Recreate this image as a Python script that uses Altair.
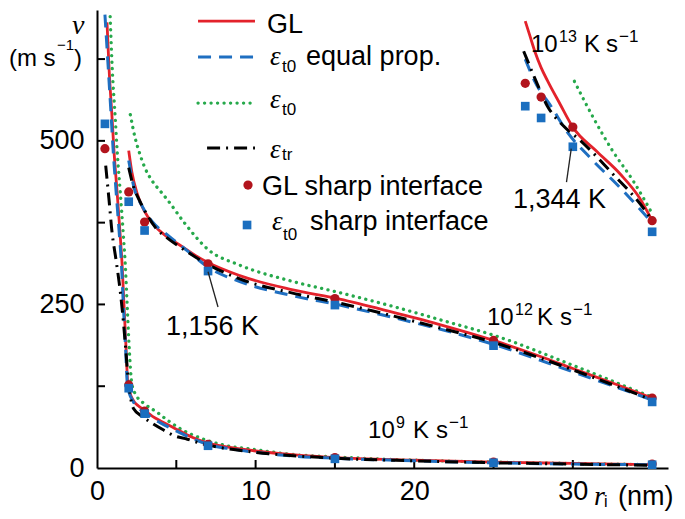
import altair as alt
import pandas as pd

# ---------------- data (r in nm, v in m/s) ----------------
# GL (red solid)
gl9_r = [0.63, 0.76, 0.95, 1.07, 1.26, 1.45, 1.58, 1.7, 1.83, 1.95, 2.3, 2.6, 3.0, 3.5, 4.0, 4.8, 6.0, 7.0, 8.5, 10, 12.5, 15, 20, 25, 30, 35]
gl9_v = [681, 611, 535, 485, 424, 360, 312, 250, 184, 126, 103, 95, 88, 79, 72, 62, 47, 38, 31, 26, 20, 16, 12, 9, 7, 5]
gl12_r = [2.0, 2.2, 2.5, 2.8, 3.2, 3.8, 4.5, 5.4, 6.2, 7.0, 9.0, 12.2, 15.3, 18.5, 21.5, 25, 28, 30, 32.5, 35]
gl12_v = [485, 452, 422, 402, 384, 366, 352, 338, 325, 314, 294, 273, 258, 239, 220, 195, 170, 152, 130, 107]
gl13_r = [27.0, 27.3, 27.6, 28.0, 28.4, 29.2, 30.0, 31.5, 33.0, 34.2, 35.0]
gl13_v = [683, 660, 637, 612, 592, 556, 521, 484, 449, 413, 378]

# eps_t0 equal prop. (blue dashed)
ep9_r = [0.5, 0.7, 0.9, 1.02, 1.2, 1.4, 1.54, 1.66, 1.8, 1.93, 2.3, 2.6, 3.0, 3.5, 4.0, 4.8, 6.0, 7.0, 8.5, 10, 12.5, 15, 20, 25, 30, 35]
ep9_v = [693, 615, 535, 485, 424, 360, 312, 250, 184, 124, 101, 92, 85, 76, 69, 59, 45, 36, 29, 24, 18, 15, 11, 8, 6, 5]
ep12_r = [2.0, 2.3, 2.9, 3.5, 4.4, 5.9, 7.0, 9.0, 12.2, 15.3, 18.5, 21.5, 25, 30, 35]
ep12_v = [470, 432, 398, 376, 357, 328, 307, 285, 264, 249, 231, 213, 189, 147, 104]
ep13_r = [27.0, 27.6, 28.7, 29.6, 31.1, 33.0, 35.0]
ep13_v = [625, 591, 550, 515, 474, 428, 375]

# eps_t0 (green dotted)
e09_r = [0.83, 0.96, 1.15, 1.27, 1.46, 1.65, 1.78, 1.9, 2.03, 2.2, 2.5, 3.0, 3.8, 4.5, 5.4, 6.5, 8.0, 10, 12.2, 15, 20, 25, 30, 35]
e09_v = [690, 611, 535, 485, 424, 360, 312, 250, 184, 128, 110, 98, 85, 72, 58, 46, 35, 28, 21, 17, 12, 9, 7, 5]
e012_r = [2.1, 2.4, 2.7, 3.0, 3.5, 4.0, 4.5, 5.5, 7.0, 9.0, 12.2, 15.3, 18.5, 22, 25, 30, 35]
e012_v = [540, 505, 480, 460, 438, 423, 408, 375, 334, 310, 286, 268, 248, 224, 203, 157, 108]
e013_r = [30.1, 31.3, 32.5, 33.8, 35.0]
e013_v = [591, 535, 485, 439, 389]

# eps_tr (black dash-dot)
tr9_r = [0.55, 0.75, 0.95, 1.2, 1.4, 1.6, 1.8, 1.95, 2.1, 2.3, 2.9, 3.5, 4.2, 4.9, 5.7, 6.5, 7.0, 10, 15, 20, 25, 30, 35]
tr9_v = [462, 412, 360, 318, 283, 240, 185, 140, 110, 91, 78, 68, 58, 49, 44, 38, 35, 24, 15, 11, 8, 6, 4]
tr12_r = [2.0, 2.3, 2.7, 3.2, 3.7, 4.4, 5.4, 7.0, 9.0, 12.2, 15.3, 17.4, 21, 25, 30, 35]
tr12_v = [459, 430, 408, 385, 367, 352, 335, 311, 289, 268, 252, 240, 218, 192, 150, 104]
tr13_r = [26.9, 27.6, 28.4, 29.4, 30.5, 32.5, 34.7, 35.0]
tr13_v = [637, 596, 553, 523, 500, 450, 389, 378]

# sharp-interface points
gls9_r = [0.5, 2, 3, 7, 15, 25, 35]
gls9_v = [488, 127, 87, 36, 16, 9, 6]
gls12_r = [2, 3, 7, 15, 25, 35]
gls12_v = [422, 376, 312, 259, 195, 107]
gls13_r = [27, 28, 30, 35]
gls13_v = [588, 567, 521, 378]
eps9_r = [0.5, 2, 3, 7, 15, 25, 35]
eps9_v = [526, 122, 83, 34, 14, 8, 5]
eps12_r = [2, 3, 7, 15, 25, 35]
eps12_v = [407, 363, 301, 249, 187, 101]
eps13_r = [27, 28, 30, 35]
eps13_v = [553, 535, 491, 361]

x_labels = [0, 10, 20, 30]
y_labels = [0, 250, 500]
x_minor = [5, 10, 15, 20, 25, 30, 35]
y_minor = [125, 250, 375, 500, 625]

# ---------------- helpers ----------------
SANS = "Liberation Sans"
SERIF = "Liberation Serif"
XS = alt.Scale(domain=[0, 36], nice=False, zero=False)
YS = alt.Scale(domain=[0, 700], nice=False, zero=False)
axis_common = dict(domainColor="black", domainWidth=2, ticks=False, tickSize=0, grid=False,
                   labelFont=SANS, labelFontSize=27, labelColor="black", title=None,
                   labelFlush=False, labelOverlap=False)
AX_X = alt.Axis(values=x_labels, labelPadding=10, **axis_common)
AX_Y = alt.Axis(values=y_labels, labelPadding=13, **axis_common)


def X(f="x"):
    return alt.X(f"{f}:Q", scale=XS, axis=AX_X)


def Y(f="y"):
    return alt.Y(f"{f}:Q", scale=YS, axis=AX_Y)


def lines_df(parts):
    rows = []
    for name, rs, vs in parts:
        for r, v in zip(rs, vs):
            rows.append({"x": r, "y": v, "s": name})
    return pd.DataFrame(rows)


def line_layer(df, **kw):
    return alt.Chart(df).mark_line(interpolate="monotone", **kw).encode(
        x=X(), y=Y(), detail="s:N", order="x:Q")


red_df = lines_df([("9", gl9_r, gl9_v), ("12", gl12_r, gl12_v), ("13", gl13_r, gl13_v)])
blue_df = lines_df([("9", ep9_r, ep9_v), ("12", ep12_r, ep12_v), ("13", ep13_r, ep13_v)])
green_df = lines_df([("9", e09_r, e09_v), ("12", e012_r, e012_v), ("13", e013_r, e013_v)])
black_df = lines_df([("9", tr9_r, tr9_v), ("12", tr12_r, tr12_v), ("13", tr13_r, tr13_v)])
glp_df = lines_df([("9", gls9_r, gls9_v), ("12", gls12_r, gls12_v), ("13", gls13_r, gls13_v)])
epp_df = lines_df([("9", eps9_r, eps9_v), ("12", eps12_r, eps12_v), ("13", eps13_r, eps13_v)])

RED = "#e3222b"
BLUE = "#1f6fc1"
GREEN = "#26a94b"
DRED = "#b2141d"
SQ = "#1a6ebf"

green_style = dict(color=GREEN, strokeWidth=3.3, strokeDash=[0.1, 6.4], strokeCap="round")
red_style = dict(color=RED, strokeWidth=2.8)
blue_style = dict(color=BLUE, strokeWidth=3.0, strokeDash=[13, 8])
black_style = dict(color="black", strokeWidth=3.0, strokeDash=[13, 6, 2, 6])

# ---------------- inward ticks ----------------
ytick_df = pd.DataFrame({"y": y_minor})
xtick_df = pd.DataFrame({"x": x_minor})
ytick_layer = alt.Chart(ytick_df).mark_rule(color="black", strokeWidth=2).encode(
    y=Y(), x=alt.value(0), x2=alt.value(8))
xtick_layer = alt.Chart(xtick_df).mark_rule(color="black", strokeWidth=2).encode(
    x=X(), y=alt.value(458), y2=alt.value(450))

# ---------------- legend ----------------
leg_lines = pd.DataFrame({
    "k": ["red", "blue", "green", "black"],
    "x": [6.37, 6.37, 6.37, 6.94],
    "x2": [9.96, 9.96, 9.96, 9.96],
    "y": [683.0, 628.2, 557.8, 489.1],
})


def leg_rule(k, style):
    d = leg_lines[leg_lines.k == k]
    return alt.Chart(d).mark_rule(**style).encode(x=X(), x2="x2:Q", y=Y())


leg_pts_red = pd.DataFrame({"x": [9.52], "y": [432.5]})
leg_pts_blue = pd.DataFrame({"x": [9.46], "y": [371.4]})

# ---------------- texts ----------------
sans_texts = pd.DataFrame([
    # legend
    {"x": 10.72, "y": 664.9, "t": "GL", "z": 27},
    {"x": 11.66, "y": 605.2, "t": "t0", "z": 17},
    {"x": 13.18, "y": 615.9, "t": "equal prop.", "z": 27},
    {"x": 11.66, "y": 539.5, "t": "t0", "z": 17},
    {"x": 11.66, "y": 470.7, "t": "tr", "z": 17},
    {"x": 10.40, "y": 417.2, "t": "GL sharp interface", "z": 27},
    {"x": 11.73, "y": 348.5, "t": "t0", "z": 17},
    {"x": 13.43, "y": 363.7, "t": "sharp interface", "z": 27},
    # temperatures
    {"x": 4.35, "y": 203.3, "t": "1,156 K", "z": 27},
    {"x": 26.23, "y": 397.4, "t": "1,344 K", "z": 27},
    # rate labels
    {"x": 27.36, "y": 635.8, "t": "10", "z": 24},
    {"x": 29.13, "y": 651.1, "t": "13", "z": 16},
    {"x": 30.71, "y": 635.8, "t": "K", "z": 24},
    {"x": 32.09, "y": 635.8, "t": "s", "z": 24},
    {"x": 32.91, "y": 651.1, "t": "\u22121", "z": 17},
    {"x": 24.59, "y": 218.6, "t": "10", "z": 24},
    {"x": 26.36, "y": 233.9, "t": "12", "z": 16},
    {"x": 27.74, "y": 218.6, "t": "K", "z": 24},
    {"x": 29.19, "y": 218.6, "t": "s", "z": 24},
    {"x": 30.01, "y": 233.9, "t": "\u22121", "z": 17},
    {"x": 17.09, "y": 45.9, "t": "10", "z": 24},
    {"x": 18.85, "y": 61.2, "t": "9", "z": 16},
    {"x": 19.92, "y": 45.9, "t": "K", "z": 24},
    {"x": 21.37, "y": 45.9, "t": "s", "z": 24},
    {"x": 22.19, "y": 61.2, "t": "\u22121", "z": 17},
    # axis titles
    {"x": -5.55, "y": 613.8, "t": "(m s", "z": 24},
    {"x": -2.52, "y": 638.8, "t": "\u22121", "z": 15},
    {"x": -1.45, "y": 613.8, "t": ")", "z": 24},
    {"x": 31.97, "y": -59.6, "t": "i", "z": 16},
    {"x": 32.85, "y": -56.5, "t": "(nm)", "z": 27},
])

serif_texts = pd.DataFrame([
    {"x": 10.91, "y": 615.9, "t": "\u03b5", "z": 27},
    {"x": 10.91, "y": 549.8, "t": "\u03b5", "z": 27},
    {"x": 10.91, "y": 474.5, "t": "\u03b5", "z": 27},
    {"x": 11.03, "y": 363.7, "t": "\u03b5", "z": 27},
    {"x": -1.58, "y": 663.3, "t": "v", "z": 28},
    {"x": 31.34, "y": -56.5, "t": "r", "z": 28},
])


def text_layer(df, font, style="normal"):
    return alt.Chart(df).mark_text(font=font, fontStyle=style, align="left", baseline="alphabetic",
                                   color="black").encode(
        x=X(), y=Y(), text="t:N", size=alt.Size("z:Q", scale=None, legend=None))


leaders = pd.DataFrame({"x": [7.0, 29.9], "x2": [7.63, 29.6], "y": [300, 488], "y2": [246, 437]})
leader_layer = alt.Chart(leaders).mark_rule(color="#222", strokeWidth=1.3).encode(
    x=X(), x2="x2:Q", y=Y(), y2="y2:Q")

layers = [
    ytick_layer,
    xtick_layer,
    line_layer(green_df, **green_style),
    line_layer(red_df, **red_style),
    line_layer(blue_df, **blue_style),
    line_layer(black_df, **black_style),
    alt.Chart(glp_df).mark_point(shape="circle", filled=True, opacity=1, size=85, color=DRED).encode(x=X(), y=Y()),
    alt.Chart(epp_df).mark_point(shape="square", filled=True, opacity=1, size=75, color=SQ).encode(x=X(), y=Y()),
    leader_layer,
    leg_rule("red", red_style),
    leg_rule("blue", blue_style),
    leg_rule("green", green_style),
    leg_rule("black", black_style),
    alt.Chart(leg_pts_red).mark_point(shape="circle", filled=True, opacity=1, size=85, color=DRED).encode(x=X(), y=Y()),
    alt.Chart(leg_pts_blue).mark_point(shape="square", filled=True, opacity=1, size=75, color=SQ).encode(x=X(), y=Y()),
    text_layer(sans_texts, SANS),
    text_layer(serif_texts, SERIF, "italic"),
]

chart = alt.layer(*layers).properties(
    width=571, height=458,
    autosize=alt.AutoSizeParams(type="none"),
    padding={"left": 89, "top": 2, "right": 9, "bottom": 43},
    background="white",
).configure_view(stroke=None)

chart.save("out.html", embed_options={"renderer": "svg", "actions": False})
